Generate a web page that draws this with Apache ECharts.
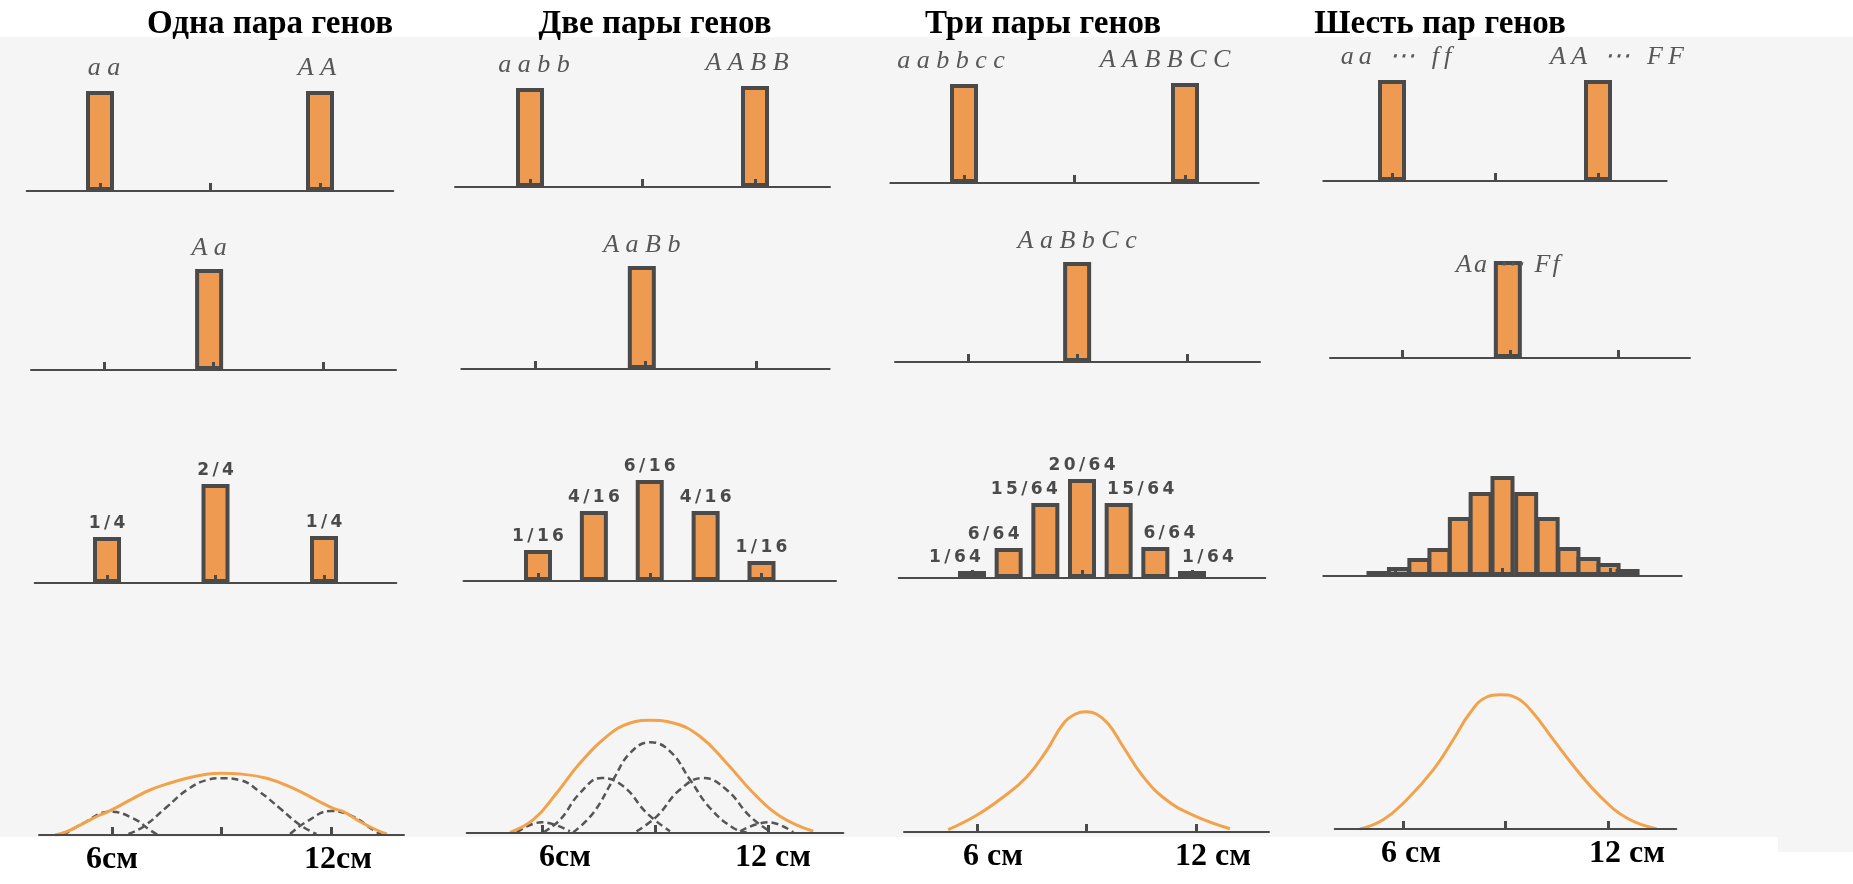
<!DOCTYPE html>
<html><head><meta charset="utf-8">
<script src="https://cdn.jsdelivr.net/npm/echarts@6/dist/echarts.min.js"></script>
<style>html,body{margin:0;padding:0;background:#fff}#c{width:1853px;height:884px}</style>
</head><body><div id="c"></div>
<script>
// ================= DATA =================
const columnTitles = ['Одна пара генов', 'Две пары генов', 'Три пары генов', 'Шесть пар генов'];
const tickValues = [6, 9, 12];                 // cm ticks on every baseline
const bottomLabelValues = [6, 12];
const bottomLabels = [['6см', '12см'], ['6см', '12 см'], ['6 см', '12 см'], ['6 см', '12 см']];

// Row 1: parents
const parentGenotypes = [['aa', 'AA'], ['aabb', 'AABB'], ['aabbcc', 'AABBCC'], ['aa ⋯ ff', 'AA ⋯ FF']];
const parentX = [[6, 12], [6, 12], [6, 12], [6, 12]];
const parentHeights = [[100, 100], [99, 101], [99, 100], [101, 101]];

// Row 2: F1
const f1Genotypes = ['Aa', 'AaBb', 'AaBbCc', 'Aa ⋯ Ff'];
const f1X = [8.88, 8.9, 8.99, 8.94];
const f1Heights = [101, 103, 100, 97];

// Row 3: F2 distributions
const f2X1 = [6, 9, 12];
const f2H1 = [46, 99, 47];
const f2L1 = ['1/4', '2/4', '1/4'];
const f2X2 = [6, 7.5, 9, 10.5, 12];
const f2H2 = [31, 70, 101, 70, 20];
const f2L2 = ['1/16', '4/16', '6/16', '4/16', '1/16'];
const f2X3 = [6, 7, 8, 9, 10, 11, 12];
const f2H3 = [7, 30, 75, 99, 75, 31, 7];
const f2L3 = ['1/64', '6/64', '15/64', '20/64', '15/64', '6/64', '1/64'];
const f2X4 = [5.54, 6.11, 6.68, 7.24, 7.81, 8.39, 9.0, 9.66, 10.26, 10.84, 11.4, 11.96, 12.49];
const f2H4 = [5, 9, 18, 28, 59, 84, 100, 84, 59, 29, 19, 13, 7];
const f2L4 = ['', '', '', '', '', '', '', '', '', '', '', '', ''];

// Row 4: curves  [cm, height]
const curve1Total = [[4.44,0],[4.76,3.3],[5.22,11.7],[5.67,20],[5.95,24.3],[6.58,36.7],[7.04,45],[7.5,51],[8.05,56.7],[8.59,60.7],[9.0,61.7],[9.51,61],[10.24,56.7],[10.97,46.7],[11.6,35],[12.06,26.7],[12.34,23.3],[12.8,13.3],[13.25,5],[13.53,1]];
const curve1Parts = [
  [[4.67,0],[5.21,11.7],[5.95,23.3],[6.58,16.7],[7.04,5],[7.26,0]],
  [[6.45,1],[6.86,8.3],[7.5,28],[8.05,45],[8.6,55],[9.0,56.7],[9.5,55],[10.05,43],[10.6,26.7],[11.15,10],[11.6,1]],
  [[10.88,1],[11.33,13.3],[12.0,24],[12.61,18.3],[13.16,5],[13.4,0]]
];
const curve2Total = [[5.15,0.7],[5.77,13.3],[6.39,40],[7.01,70],[7.72,96.7],[8.34,110],[8.87,112.7],[9.49,110],[10.19,96.7],[10.9,70],[11.61,40],[12.32,16.7],[13.2,1.7]];
const curve2Parts = [
  [[5.33,0.7],[5.99,10.7],[6.74,1.7]],
  [[6.04,0.7],[6.48,13.3],[7.01,40],[7.58,55],[8.16,46.7],[8.78,20],[9.4,1.7]],
  [[6.83,0.7],[7.36,20],[7.89,53.3],[8.34,80],[8.87,90.7],[9.4,81.7],[9.93,53.3],[10.46,25],[11.08,5],[11.43,0.7]],
  [[8.51,1.7],[9.05,16.7],[9.66,43.3],[10.28,55],[10.9,43.3],[11.52,16.7],[12.05,1.7]],
  [[11.26,1.7],[12.01,10.7],[12.67,0.7]]
];
const curve3Total = [[5.21,2.3],[5.99,16.7],[6.72,35],[7.36,55],[7.91,81.7],[8.36,108],[8.7,118],[8.98,120.3],[9.27,118],[9.6,108],[10.01,85],[10.56,55],[11.2,31.7],[11.93,16.7],[12.93,3.3]];
const curve4Total = [[4.74,0],[5.42,9.3],[6.11,29.3],[6.89,59.3],[7.47,89.3],[7.96,116],[8.45,132],[8.84,134.3],[9.33,131],[9.81,116],[10.4,89.3],[11.08,59.3],[11.77,32.7],[12.55,11],[13.42,0.3]];

// ================= LAYOUT / STYLE =================
// per panel: [px of 6 cm tick, px of 12 cm tick, baseline y]
const geomRows = [
  [[100,320,191],[530,755,187],[964,1185,183],[1392,1598,181]],
  [[104,323,370],[535,756,369],[968,1187,362],[1402,1618,358]],
  [[107,324,583],[538,761.5,581],[972,1192,578],[1395,1610,576]],
  [[112,331,835],[542,768,833],[977,1196,832],[1403,1608,829]]
];
const rowHeights = [130, 130, 130, 150];
const titleX = [265, 650, 1038, 1435];
const bottomShift = [[0,7],[23,5],[16,17],[8,19]];
const parentLabelDx = [[4,-3],[4,-8],[-13,-20],[4,19]];
const f1LabelDy = [0, 0, 0, 25];
const f2LabelDx = [[0,0,0],[0,0,0,0,0],[-17,-15,-21,0,22,14,16],[0,0,0,0,0,0,0,0,0,0,0,0,0]];
const parentGap = ['\u2005', '\u2005', '\u2005', '\u2009'];
const f1Gap = ['\u2005', '\u2005', '\u2005', '\u200A'];

const ORANGE = '#EE9A50', DARK = '#4a4a4a', LINE_ORANGE = '#F2A24A';
const spread = (s, g) => s.split('').join(g);

const grids = [], xAxes = [], yAxes = [], series = [];
for (let r = 0; r < 4; r++) {
  for (let c = 0; c < 4; c++) {
    const [p6, p12, base] = geomRows[r][c];
    const ppu = (p12 - p6) / 6;
    const h = rowHeights[r];
    grids.push({left: p6 - 2 * ppu, width: 10 * ppu, top: base - h, height: h, containLabel: false, outerBoundsMode: 'none'});
    const sh = bottomShift[c];
    const lblFont = {fontFamily: 'Liberation Serif', fontWeight: 'bold', fontSize: 32, color: '#000'};
    xAxes.push({
      type: 'value', gridIndex: grids.length - 1, min: 4, max: 14, z: 5,
      splitLine: {show: false},
      axisLine: {show: true, onZero: false, lineStyle: {color: DARK, width: 2}},
      axisTick: {show: true, customValues: tickValues, inside: true, length: 8, lineStyle: {color: DARK, width: 3}},
      axisLabel: {
        show: r === 3, customValues: bottomLabelValues, margin: 9, ...lblFont,
        formatter: v => v === 6 ? `{l|${bottomLabels[c][0]}}` : `{r|${bottomLabels[c][1]}}`,
        rich: {l: {...lblFont, padding: [0,0,0,2*sh[0]]}, r: {...lblFont, padding: [0,0,0,2*sh[1]]}}
      }
    });
    yAxes.push({type: 'value', gridIndex: grids.length - 1, min: 0, max: h, show: false});
  }
}
const idx = (r, c) => r * 4 + c;

const barStyle = {color: ORANGE, borderColor: DARK, borderWidth: 4};
const genoLabel = {show: true, position: 'top', fontFamily: 'Liberation Serif', fontStyle: 'italic', fontSize: 26, color: '#575757'};
const BW = 28;

// Row 1
for (let c = 0; c < 4; c++) {
  series.push({
    type: 'bar', xAxisIndex: idx(0,c), yAxisIndex: idx(0,c), barWidth: BW, itemStyle: barStyle,
    data: parentX[c].map((x, i) => ({value: [x, parentHeights[c][i]],
      label: {offset: [parentLabelDx[c][i], 0]}})),
    label: {...genoLabel, distance: 10, formatter: p => spread(parentGenotypes[c][p.dataIndex], parentGap[c])}
  });
}
// Row 2
for (let c = 0; c < 4; c++) {
  series.push({
    type: 'bar', xAxisIndex: idx(1,c), yAxisIndex: idx(1,c), barWidth: BW, itemStyle: barStyle,
    data: [[f1X[c], f1Heights[c]]],
    label: {...genoLabel, distance: 8, offset: [0, f1LabelDy[c]], formatter: () => spread(f1Genotypes[c], f1Gap[c])}
  });
}
// Row 3
const f2X = [f2X1, f2X2, f2X3, f2X4], f2H = [f2H1, f2H2, f2H3, f2H4], f2L = [f2L1, f2L2, f2L3, f2L4];
for (let c = 0; c < 4; c++) {
  series.push({
    type: 'bar', xAxisIndex: idx(2,c), yAxisIndex: idx(2,c), barWidth: c === 3 ? 24 : BW, itemStyle: barStyle,
    data: f2X[c].map((x, i) => ({value: [x, f2H[c][i]], label: {offset: [f2LabelDx[c][i], 0]}})),
    label: {show: c < 3, position: 'top', distance: 5, fontFamily: 'DejaVu Sans', fontWeight: 'bold', fontSize: 17, color: '#4a4a4a',
      formatter: p => spread(f2L[c][p.dataIndex], '\u2009')}
  });
}
// Row 4
const dashedStyle = {color: '#555', width: 2.5, type: [7, 4]};
const addLine = (c, data, dashed) => series.push({
  type: 'line', xAxisIndex: idx(3,c), yAxisIndex: idx(3,c), data, smooth: 0.45, showSymbol: false, symbol: 'none',
  z: dashed ? 2 : 3,
  lineStyle: dashed ? dashedStyle : {color: LINE_ORANGE, width: 3}
});
curve1Parts.forEach(d => addLine(0, d, true));
addLine(0, curve1Total, false);
curve2Parts.forEach(d => addLine(1, d, true));
addLine(1, curve2Total, false);
addLine(2, curve3Total, false);
addLine(3, curve4Total, false);

const chart = echarts.init(document.getElementById('c'), null, {renderer: 'canvas'});
chart.setOption({
  animation: false,
  backgroundColor: '#ffffff',
  graphic: [
    {type: 'rect', z: -10, silent: true, shape: {x: 0, y: 37, width: 1853, height: 800}, style: {fill: '#f5f5f5'}},
    {type: 'rect', z: -10, silent: true, shape: {x: 1778, y: 837, width: 75, height: 15}, style: {fill: '#f5f5f5'}}
  ],
  title: columnTitles.map((t, i) => ({
    text: t, left: titleX[i], top: 3, textAlign: 'center',
    textStyle: {fontFamily: 'Liberation Serif', fontWeight: 'bold', fontSize: 33, color: '#000'}
  })),
  grid: grids, xAxis: xAxes, yAxis: yAxes, series
});
</script></body></html>
